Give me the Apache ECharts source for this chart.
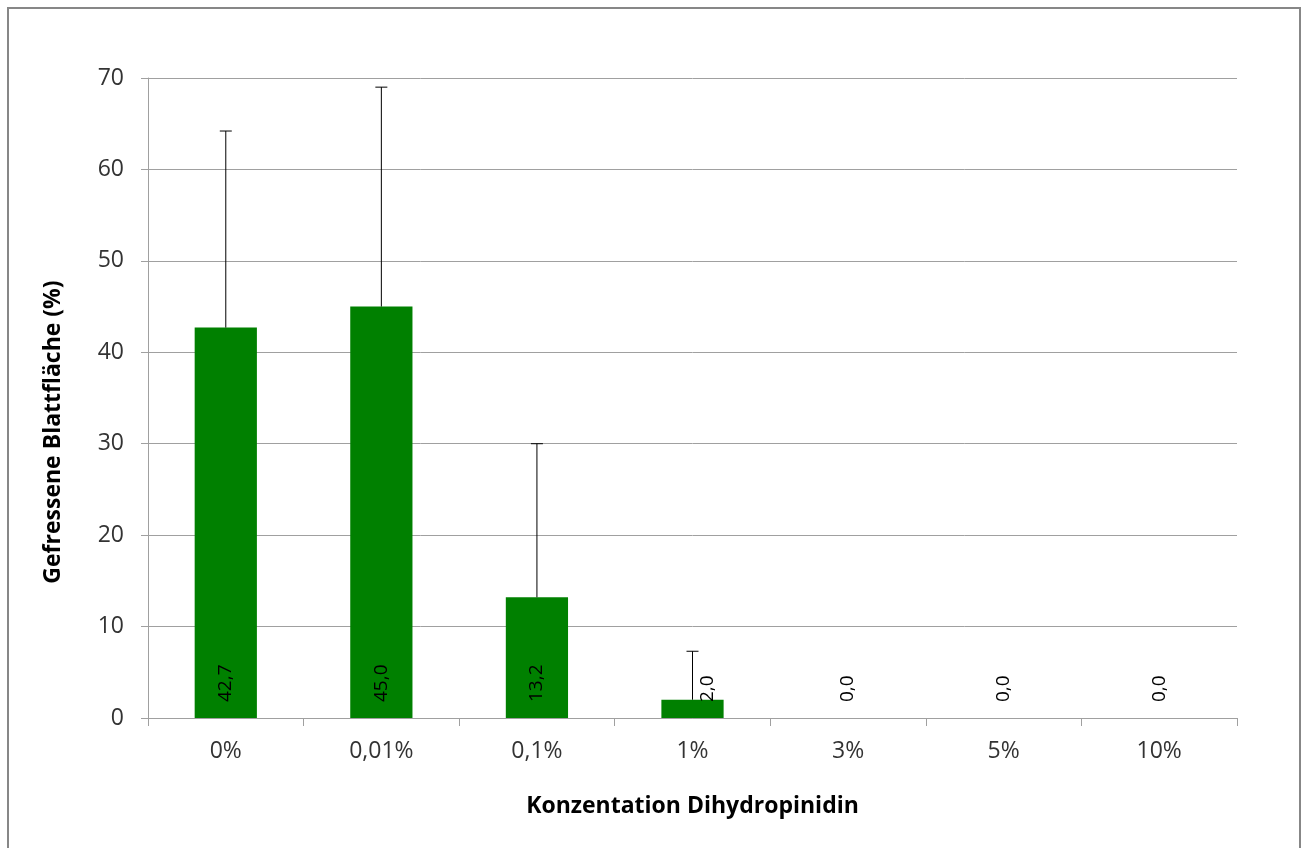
<!DOCTYPE html>
<html><head><meta charset="utf-8">
<script src="https://cdn.jsdelivr.net/npm/echarts@6/dist/echarts.min.js"></script>
<style>html,body{margin:0;padding:0;background:#fff}#c{width:1303px;height:848px}</style>
</head><body><div id="c"></div>
<script>
const categories = ['0%', '0,01%', '0,1%', '1%', '3%', '5%', '10%'];
const means = [42.7, 45.0, 13.2, 2.0, 0.0, 0.0, 0.0];
const errors = [21.5, 24.0, 16.8, 5.3, 0, 0, 0];
const yTicks = [0, 10, 20, 30, 40, 50, 60, 70];

const FONT = '"Open Sans", Lato, sans-serif';
const chart = echarts.init(document.getElementById('c'));
chart.setOption({
  animation: false,
  grid: { left: 148, right: 66, top: 78, bottom: 130 },
  graphic: [
    { type: 'rect', shape: { x: 8, y: 8, width: 1292, height: 860 }, style: { fill: 'none', stroke: '#878787', lineWidth: 2 }, silent: true },
    { type: 'text', x: 53, y: 432, rotation: Math.PI / 2,
      style: { text: 'Gefressene Blattfläche (%)', font: 'bold 23px ' + FONT, fill: '#000', align: 'center', verticalAlign: 'middle' } }
  ],
  xAxis: {
    type: 'category', data: categories,
    axisLine: { lineStyle: { color: '#a0a0a0', width: 1 } },
    axisTick: { show: true, length: 8, lineStyle: { color: '#a0a0a0' } },
    axisLabel: { color: '#333', fontSize: 23, fontFamily: FONT, margin: 22 },
    name: 'Konzentation Dihydropinidin', nameLocation: 'middle', nameGap: 77,
    nameTextStyle: { fontWeight: 'bold', fontSize: 23, fontFamily: FONT, color: '#000' }
  },
  yAxis: {
    type: 'value', min: yTicks[0], max: yTicks[yTicks.length - 1], interval: 10,
    axisLine: { show: true, lineStyle: { color: '#a0a0a0', width: 1 } },
    axisTick: { show: true, length: 7, lineStyle: { color: '#a0a0a0' } },
    splitLine: { lineStyle: { color: '#a0a0a0', width: 1 } },
    axisLabel: { color: '#333', fontSize: 23, fontFamily: FONT, margin: 24 }
  },
  series: [
    {
      type: 'bar',
      data: means.map((v, i) => (errors[i] > 0 && v < 5) ? { value: v, label: { offset: [0, 15] } } : v),
      barWidth: '40%',
      itemStyle: { color: '#008000' },
      label: {
        show: true, position: 'insideBottom', rotate: 90, distance: 16,
        align: 'left', verticalAlign: 'middle',
        formatter: p => p.value.toFixed(1).replace('.', ','),
        color: '#000', fontSize: 19, fontFamily: FONT
      },
      z: 2
    },
    {
      type: 'custom',
      data: means.map((m, i) => [i, m, errors[i]]),
      renderItem: function (params, api) {
        const i = api.value(0), m = api.value(1), e = api.value(2);
        if (!e) return null;
        const p0 = api.coord([i, m]);
        const p1 = api.coord([i, m + e]);
        const s = { stroke: '#000', lineWidth: 1 };
        return {
          type: 'group',
          children: [
            { type: 'line', shape: { x1: p0[0], y1: p0[1], x2: p1[0], y2: p1[1] }, style: s },
            { type: 'line', shape: { x1: p1[0] - 6, y1: p1[1], x2: p1[0] + 6, y2: p1[1] }, style: s }
          ]
        };
      },
      z: 3
    }
  ]
});
</script></body></html>
